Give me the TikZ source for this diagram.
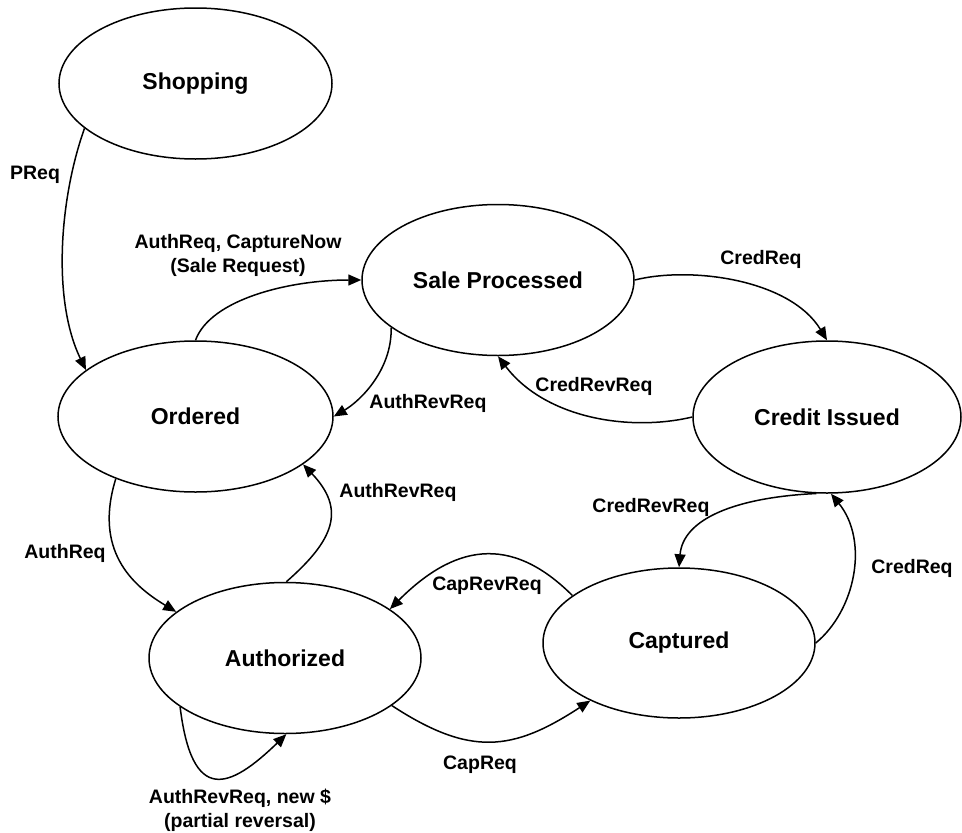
\documentclass[tikz,border=0pt]{standalone}
\usepackage{fontspec}
\setmainfont{Liberation Sans}
\usetikzlibrary{shapes.geometric,arrows.meta}

\tikzset{
  state/.style={draw, ellipse, line width=1.5pt, inner sep=0pt,
    minimum width=272pt, minimum height=151pt,
    font=\fontsize{23}{26}\selectfont\bfseries},
  lbl/.style={inner sep=0pt, align=center,
    font=\fontsize{19.5}{24}\selectfont\bfseries},
  arr/.style={line width=1.5pt, -{Triangle[length=13pt,width=11pt]}}
}

\begin{document}
\begin{tikzpicture}[x=1pt, y=-1pt]
  \useasboundingbox (0,0) rectangle (962,833);

  % states
  \node[state, minimum width=273pt] (shop) at (195.5,83.5) {Shopping};
  \node[state] (sale) at (498,280) {Sale Processed};
  \node[state, minimum width=275pt] (ord)  at (195.5,416.5) {Ordered};
  \node[state, minimum width=268pt, minimum height=152pt] (cred) at (827,417) {Credit Issued};
  \node[state] (auth) at (285,658) {Authorized};
  \node[state, minimum height=150pt] (capt) at (679,643) {Captured};

  % transitions
  \draw[arr] (shop.202.8) .. controls +(-25,70) and +(-34,-70) .. (ord.157.4);
  \draw[arr] (ord.90) .. controls +(15,-41) and +(-72,0) .. (sale.180);
  \draw[arr] (sale.204.4) .. controls +(1,42) and +(27,-16) .. (ord.0);
  \draw[arr] (sale.0) .. controls +(56,-14) and +(-37,-61) .. (cred.90);
  \draw[arr] (cred.180) .. controls +(-63,15) and +(47,62) .. (sale.270);
  \draw[arr] (cred.262.5) .. controls +(-82,4) and +(4,-48) .. (capt.90);
  \draw[arr] (capt.0) .. controls +(40,-33) and +(38,47) .. (cred.273.8);
  \draw[arr] (capt.156.7) .. controls +(-63,-63) and +(63,-63) .. (auth.25.3);
  \draw[arr] (auth.336.5) .. controls +(78,51) and +(-78,51) .. (capt.213.4);
  \draw[arr] (ord.218.5) .. controls +(-22,71) and +(-45,-27) .. (auth.157.3);
  \draw[arr] (auth.89) .. controls +(48,-42) and +(43,45) .. (ord.336.5);
  \draw[arr] (auth.205) .. controls +(12,98) and +(-57,55) .. (auth.271.5);

  % transition labels
  \node[lbl] (lpreq)   at (35,175)  {PReq};
  \node[lbl] (lsale)   at (238,255) {AuthReq, CaptureNow\\(Sale Request)};
  \node[lbl] (lrevo)   at (428,403) {AuthRevReq};
  \node[lbl] (lcredt)  at (761,259) {CredReq};
  \node[lbl] (lcrevu)  at (594,386) {CredRevReq};
  \node[lbl] (lcrevl)  at (651,507) {CredRevReq};
  \node[lbl] (lcredr)  at (912,568) {CredReq};
  \node[lbl] (lcaprev) at (487,586) {CapRevReq};
  \node[lbl] (lcap)    at (480,765) {CapReq};
  \node[lbl] (lauth)   at (65,553)  {AuthReq};
  \node[lbl] (lreva)   at (398,492) {AuthRevReq};
  \node[lbl] (lloop)   at (240,810) {AuthRevReq, new \$\\(partial reversal)};
\end{tikzpicture}
\end{document}
